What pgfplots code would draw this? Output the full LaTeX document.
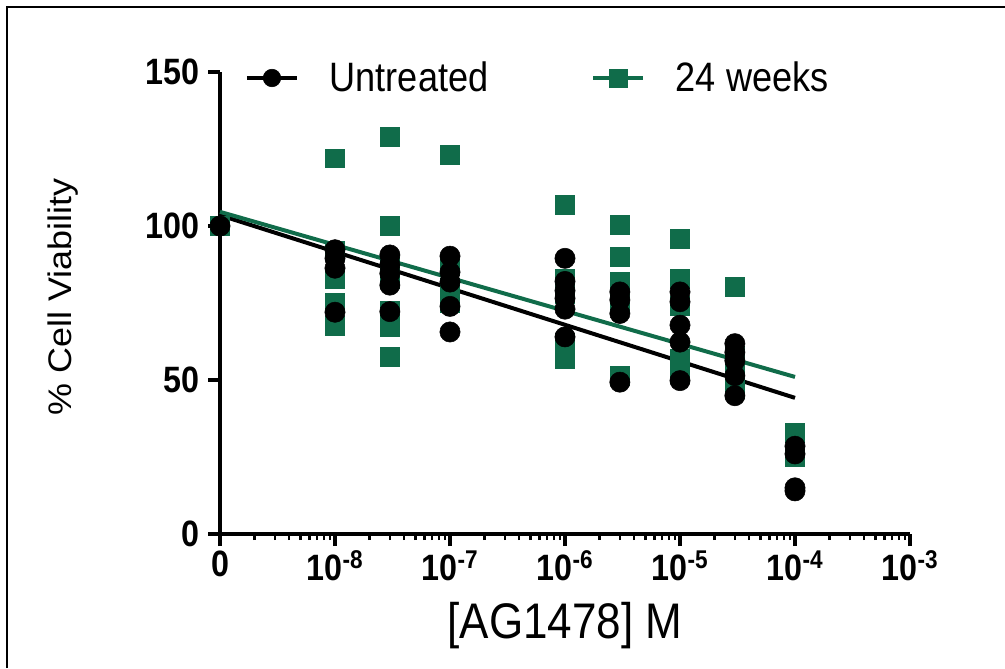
\documentclass[border=0pt]{standalone}
\usepackage{fontspec}
\setmainfont{Liberation Sans}
\newfontfamily\lblfont{Liberation Sans}[FakeStretch=0.88]
\newfontfamily\ylblfont{Liberation Sans}[FakeStretch=1.1]
\usepackage{pgfplots}
\pgfplotsset{compat=1.18}
\definecolor{pgreen}{RGB}{16,108,74}

\begin{document}
\begin{tikzpicture}
\useasboundingbox (0,0) rectangle (753.75pt,501pt);
\draw[line width=1.5pt] (5.25pt,0pt) -- (5.25pt,495.75pt) -- (753.75pt,495.75pt);
\begin{axis}[
  at={(165pt,100.5pt)}, anchor=south west,
  scale only axis,
  width=517.5pt, height=346.5pt,
  xmode=log,
  xmin=1e-9, xmax=1e-3,
  ymin=0, ymax=150,
  axis lines=left,
  axis line style={-, line width=3pt},
  tick align=outside,
  xtick={1e-9,1e-8,1e-7,1e-6,1e-5,1e-4,1e-3},
  xticklabels={0,10\textsuperscript{-8},10\textsuperscript{-7},10\textsuperscript{-6},10\textsuperscript{-5},10\textsuperscript{-4},10\textsuperscript{-3}},
  minor xtick={2e-9,3e-9,4e-9,5e-9,6e-9,7e-9,8e-9,9e-9,
               2e-8,3e-8,4e-8,5e-8,6e-8,7e-8,8e-8,9e-8,
               2e-7,3e-7,4e-7,5e-7,6e-7,7e-7,8e-7,9e-7,
               2e-6,3e-6,4e-6,5e-6,6e-6,7e-6,8e-6,9e-6,
               2e-5,3e-5,4e-5,5e-5,6e-5,7e-5,8e-5,9e-5,
               2e-4,3e-4,4e-4,5e-4,6e-4,7e-4,8e-4,9e-4},
  ytick={0,50,100,150},
  yticklabels={0,50,100,150},
  major tick length=9pt,
  minor tick length=4.5pt,
  major tick style={line width=2.5pt, black},
  minor tick style={line width=1.8pt, black},
  ticklabel style={font=\lblfont\bfseries\fontsize{27.5pt}{27.5pt}\selectfont},
  yticklabel style={xshift=-3pt},
  xlabel={[AG1478] M},
  xlabel style={font=\lblfont\fontsize{37.5pt}{37.5pt}\selectfont, at={(axis description cs:0.5,-0.198)}, anchor=center},
  ylabel={\% Cell Viability},
  ylabel style={font=\ylblfont\fontsize{24.5pt}{24.5pt}\selectfont, at={(axis description cs:-0.228,0.513)}, anchor=center},
  clip=false,
  legend columns=2,
  legend style={draw=none, fill=none, at={(axis description cs:0.030,0.987)}, anchor=west,
    font=\lblfont\fontsize{30.8pt}{30.8pt}\selectfont,
    /tikz/every odd column/.append style={column sep=21pt},
    /tikz/every even column/.append style={column sep=75pt}},
  legend image code/.code={
    \draw[#1, line width=3pt] (0cm,0cm) -- (1.32cm,0cm);
    \draw[#1, mark size=6.6pt] plot coordinates {(0.66cm,0cm)};
  },
]
\addlegendimage{black, mark=*, mark options={draw=black, fill=black}}
\addlegendentry{Untreated}
\addlegendimage{pgreen, mark=square*, mark options={draw=pgreen, fill=pgreen}}
\addlegendentry{24 weeks}
% regression lines
\addplot[black, line width=3pt, forget plot] coordinates {(1e-9,103.5) (1e-4,44.2)};
\addplot[pgreen, line width=3pt, forget plot] coordinates {(1e-9,104.6) (1e-4,51.0)};
% 24 weeks
\addplot[pgreen, only marks, forget plot, mark=square*, mark size=7.1pt, mark options={draw=pgreen, fill=pgreen}]
  coordinates {
    (1e-9,100)
    (1e-8,122) (1e-8,92) (1e-8,83) (1e-8,75) (1e-8,67.5)
    (3e-8,129) (3e-8,100) (3e-8,88) (3e-8,83) (3e-8,72.6) (3e-8,67.2) (3e-8,57.5)
    (1e-7,123) (1e-7,87) (1e-7,80) (1e-7,75)
    (1e-6,106.8) (1e-6,83) (1e-6,78) (1e-6,62) (1e-6,57)
    (3e-6,100.4) (3e-6,90) (3e-6,82) (3e-6,75) (3e-6,51.4)
    (1e-5,96) (1e-5,83) (1e-5,74) (1e-5,57) (1e-5,52)
    (3e-5,80.3) (3e-5,58) (3e-5,53) (3e-5,47)
    (1e-4,33) (1e-4,25)
  };
% Untreated
\addplot[black, only marks, forget plot, mark=*, mark size=7.6pt, mark options={draw=black, fill=black}]
  coordinates {
    (1e-9,100)
    (1e-8,92.3) (1e-8,89.5) (1e-8,86.3) (1e-8,72)
    (3e-8,90.6) (3e-8,87.4) (3e-8,84.6) (3e-8,80.8) (3e-8,72.2)
    (1e-7,90.2) (1e-7,85) (1e-7,81.8) (1e-7,73.9) (1e-7,65.6)
    (1e-6,89.5) (1e-6,82) (1e-6,79) (1e-6,76.5) (1e-6,73) (1e-6,64)
    (3e-6,78.6) (3e-6,76) (3e-6,71.6) (3e-6,49.3)
    (1e-5,78.6) (1e-5,75.4) (1e-5,67.8) (1e-5,62.3) (1e-5,49.8)
    (3e-5,61.8) (3e-5,59) (3e-5,56.3) (3e-5,51.4) (3e-5,44.9)
    (1e-4,28.5) (1e-4,26) (1e-4,15) (1e-4,14)
  };
\end{axis}
\end{tikzpicture}
\end{document}
